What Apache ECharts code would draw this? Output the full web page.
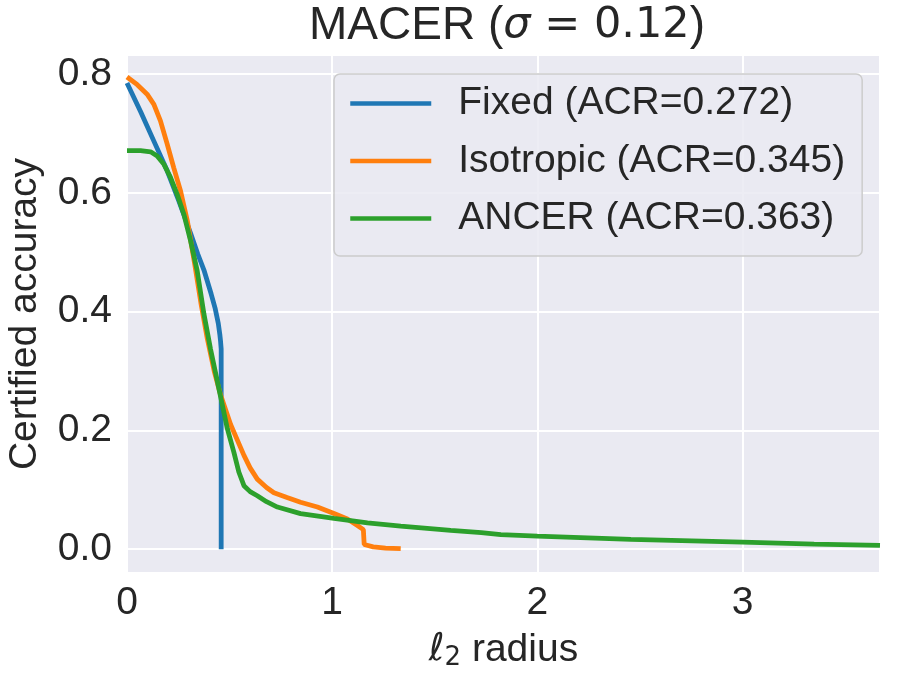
<!DOCTYPE html>
<html>
<head>
<meta charset="utf-8">
<script src="https://cdn.jsdelivr.net/npm/echarts@6/dist/echarts.min.js"></script>
<style>
  html, body { margin: 0; padding: 0; background: #fff; }
  #box { width: 899px; height: 675px; }
</style>
</head>
<body>
<div id="box"></div>
<script>
// values
var seriesNames = ['Fixed (ACR=0.272)', 'Isotropic (ACR=0.345)', 'ANCER (ACR=0.363)'];

var fixedRadius = [0, 0.066, 0.131, 0.196, 0.253, 0.31, 0.345, 0.375, 0.41, 0.43, 0.445, 0.453, 0.456, 0.459, 0.459];
var fixedAcc    = [0.785, 0.737, 0.687, 0.637, 0.586, 0.532, 0.497, 0.47, 0.43, 0.405, 0.38, 0.36, 0.35, 0.337, 0.0];

var isoRadius = [0, 0.05, 0.098, 0.131, 0.163, 0.196, 0.228, 0.261, 0.294, 0.33, 0.36, 0.391, 0.425, 0.456, 0.505, 0.54,
                 0.57, 0.6, 0.635, 0.68, 0.716, 0.78, 0.846, 0.928, 1.009, 1.074, 1.123, 1.152, 1.156, 1.2, 1.26, 1.334];
var isoAcc    = [0.795, 0.782, 0.766, 0.749, 0.721, 0.682, 0.642, 0.603, 0.553, 0.48, 0.415, 0.355, 0.3, 0.26, 0.21, 0.182,
                 0.158, 0.137, 0.118, 0.104, 0.095, 0.087, 0.079, 0.071, 0.06, 0.051, 0.04, 0.033, 0.008, 0.004, 0.002, 0.001];

var ancerRadius = [0, 0.066, 0.115, 0.147, 0.18, 0.212, 0.245, 0.277, 0.31, 0.342, 0.375, 0.407, 0.448, 0.489, 0.521, 0.545,
                   0.57, 0.6, 0.635, 0.68, 0.733, 0.846, 1.009, 1.172, 1.334, 1.578, 1.727, 1.822, 2.0, 2.456, 3.0, 3.349, 3.67];
var ancerAcc    = [0.671, 0.671, 0.669, 0.662, 0.648, 0.626, 0.597, 0.564, 0.519, 0.469, 0.396, 0.337, 0.27, 0.203, 0.163, 0.13,
                   0.107, 0.097, 0.09, 0.08, 0.071, 0.06, 0.052, 0.0445, 0.039, 0.0316, 0.028, 0.0245, 0.022, 0.0165, 0.012, 0.0087, 0.0064];

var colors = ['#1f77b4', '#ff7f0e', '#2ca02c'];

function pairs(xs, ys) {
    return xs.map(function (x, i) { return [x, ys[i]]; });
}

var font = 'Liberation Sans, Arial, sans-serif';

var chart = echarts.init(document.getElementById('box'));

var option = {
    animation: false,
    backgroundColor: '#ffffff',
    title: {
        text: '{a|MACER (}{s|σ}{m| = 0.12}{a|)}',
        left: 502,
        top: -2,
        textAlign: 'center',
        textStyle: {
            rich: {
                a: { fontFamily: font, fontWeight: 'normal', fontSize: 46, color: '#262626' },
                s: { fontFamily: 'DejaVu Sans', fontStyle: 'italic', fontWeight: 'normal', fontSize: 43, color: '#262626' },
                m: { fontFamily: 'DejaVu Sans', fontWeight: 'normal', fontSize: 43, color: '#262626' }
            }
        }
    },
    grid: {
        left: 127, right: 19, top: 55, bottom: 102,
        outerBoundsMode: 'none',
        show: true, backgroundColor: '#eaeaf2', borderWidth: 0
    },
    legend: {
        data: seriesNames,
        orient: 'vertical',
        left: 334, top: 74,
        padding: [10, 17, 18, 14],
        itemWidth: 81,
        itemHeight: 14,
        itemGap: 18.5,
        itemStyle: { opacity: 0 },
        lineStyle: { width: 4.5 },
        backgroundColor: 'rgba(234,234,242,0.85)',
        borderColor: '#cccccc',
        borderWidth: 1.5,
        borderRadius: 6,
        textStyle: { fontFamily: font, fontSize: 39, color: '#262626', lineHeight: 38, padding: [0, 0, 0, 22] }
    },
    xAxis: {
        type: 'value',
        min: 0, max: 3.67, interval: 1,
        name: '{l|ℓ}{sub|2}{t| radius}',
        nameLocation: 'middle',
        nameGap: 56,
        nameTextStyle: {
            rich: {
                l: { fontFamily: 'DejaVu Sans', fontStyle: 'italic', fontSize: 38, color: '#262626' },
                sub: { fontFamily: 'DejaVu Sans', fontSize: 26, color: '#262626', padding: [16, 0, 0, 0] },
                t: { fontFamily: font, fontSize: 39, color: '#262626' }
            }
        },
        axisLine: { show: false },
        axisTick: { show: false },
        axisLabel: {
            fontFamily: font, fontSize: 39, color: '#262626', margin: 11,
            formatter: function (v) { return Math.abs(v - Math.round(v)) < 1e-6 ? String(Math.round(v)) : ''; }
        },
        splitLine: { show: true, lineStyle: { color: '#ffffff', width: 2 } }
    },
    yAxis: {
        type: 'value',
        min: -0.04, max: 0.832, splitNumber: 4,
        name: 'Certified accuracy',
        nameLocation: 'middle',
        nameRotate: 90,
        nameGap: 82,
        nameTextStyle: { fontFamily: font, fontSize: 39, color: '#262626' },
        axisLine: { show: false },
        axisTick: { show: false },
        axisLabel: {
            fontFamily: font, fontSize: 39, color: '#262626', margin: 15,
            formatter: function (v) {
                var k = v / 0.2;
                return Math.abs(k - Math.round(k)) < 1e-6 ? (Math.round(k) * 0.2).toFixed(1) : '';
            }
        },
        splitLine: { show: true, lineStyle: { color: '#ffffff', width: 2 } }
    },
    series: [
        { name: seriesNames[0], type: 'line', data: pairs(fixedRadius, fixedAcc), showSymbol: false, symbol: 'none',
          color: colors[0], lineStyle: { width: 4.8, color: colors[0] }, z: 2 },
        { name: seriesNames[1], type: 'line', data: pairs(isoRadius, isoAcc), showSymbol: false, symbol: 'none',
          color: colors[1], lineStyle: { width: 4.8, color: colors[1] }, z: 3 },
        { name: seriesNames[2], type: 'line', data: pairs(ancerRadius, ancerAcc), showSymbol: false, symbol: 'none',
          color: colors[2], lineStyle: { width: 4.8, color: colors[2] }, z: 4 }
    ]
};

chart.setOption(option);
</script>
</body>
</html>
